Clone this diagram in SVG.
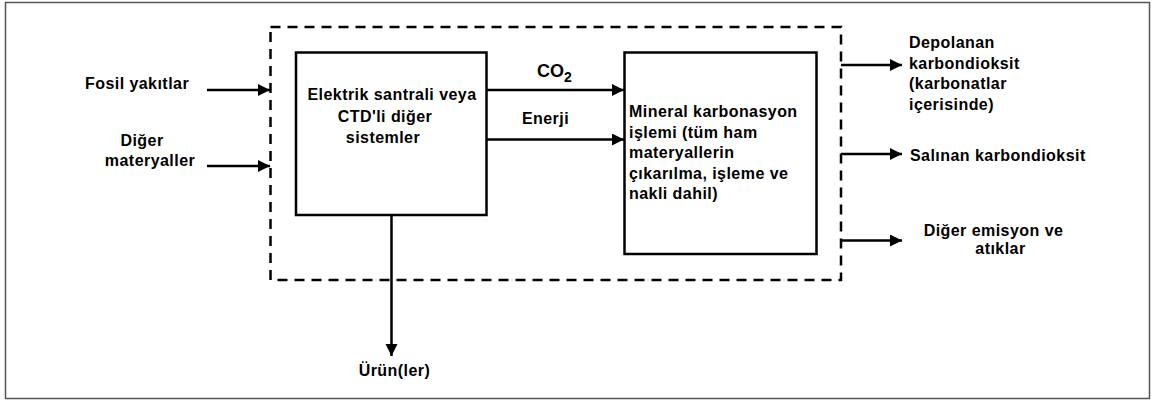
<svg xmlns="http://www.w3.org/2000/svg" width="1154" height="401" viewBox="0 0 1154 401">
<defs>
<style>
.t{font-family:"Liberation Sans",Arial,sans-serif;font-weight:bold;font-size:16px;letter-spacing:0.45px;fill:#000}
.m{text-anchor:middle}
.box{fill:#fff;stroke:#000;stroke-width:2.5}
.dash{fill:none;stroke:#000;stroke-width:2.5;stroke-dasharray:10 7}
.c{fill:none;stroke:#000;stroke-width:2.5}
</style>
<marker id="ah" markerUnits="userSpaceOnUse" markerWidth="13" markerHeight="13" refX="12" refY="6" orient="auto" viewBox="0 0 13 13">
<path d="M0,0 L12,6 L0,12 z" fill="#000"/>
</marker>
</defs>
<rect x="0" y="0" width="1154" height="401" fill="#fff"/>
<rect x="5.5" y="2.5" width="1144" height="396" fill="none" stroke="#555" stroke-width="1.5"/>
<g id="boundary">
<rect class="dash" x="270.5" y="27" width="570.5" height="253"/>
</g>
<g id="power-plant">
<rect class="box" x="296" y="52.5" width="190.5" height="162.5"/>
<text class="t m" x="392" y="100">Elektrik santrali veya</text>
<text class="t m" x="385" y="122">CTD'li diğer</text>
<text class="t m" x="383" y="143">sistemler</text>
</g>
<g id="mineral-carbonation">
<rect class="box" x="624.5" y="52.5" width="192" height="201.5"/>
<text class="t" x="629" y="116.5">Mineral karbonasyon</text>
<text class="t" x="629" y="137.5">işlemi (tüm ham</text>
<text class="t" x="629" y="158">materyallerin</text>
<text class="t" x="629" y="178.5">çıkarılma, işleme ve</text>
<text class="t" x="629" y="198.5">nakli dahil)</text>
</g>
<g id="fossil-fuels">
<text class="t m" x="137" y="88.5">Fosil yakıtlar</text>
</g>
<g id="other-materials">
<text class="t m" x="142" y="146">Diğer</text>
<text class="t m" x="150" y="166">materyaller</text>
</g>
<g id="products">
<text class="t m" x="394.5" y="376">Ürün(ler)</text>
</g>
<g id="stored-co2">
<text class="t" x="909" y="48">Depolanan</text>
<text class="t" x="909" y="68.5">karbondioksit</text>
<text class="t" x="909" y="89">(karbonatlar</text>
<text class="t" x="909" y="109.5">içerisinde)</text>
</g>
<g id="released-co2">
<text class="t" x="910" y="160.5">Salınan karbondioksit</text>
</g>
<g id="other-emissions">
<text class="t m" x="993.5" y="236">Diğer emisyon ve</text>
<text class="t m" x="1000.5" y="254">atıklar</text>
</g>
<g id="connectors">
<line class="c" x1="207" y1="90" x2="270" y2="90" marker-end="url(#ah)"/>
<line class="c" x1="207" y1="166" x2="270" y2="166" marker-end="url(#ah)"/>
<line class="c" x1="486.5" y1="90" x2="624" y2="90" marker-end="url(#ah)"/>
<line class="c" x1="486.5" y1="139.5" x2="624" y2="139.5" marker-end="url(#ah)"/>
<line class="c" x1="391.5" y1="215" x2="391.5" y2="356" marker-end="url(#ah)"/>
<line class="c" x1="841" y1="65" x2="902" y2="65" marker-end="url(#ah)"/>
<line class="c" x1="841" y1="154" x2="902" y2="154" marker-end="url(#ah)"/>
<line class="c" x1="841" y1="240.5" x2="902" y2="240.5" marker-end="url(#ah)"/>
<text class="t" x="537" y="77" style="font-size:18px;letter-spacing:0">CO<tspan y="82" style="font-size:14px">2</tspan></text>
<text class="t m" x="545.5" y="124">Enerji</text>
</g>
</svg>
